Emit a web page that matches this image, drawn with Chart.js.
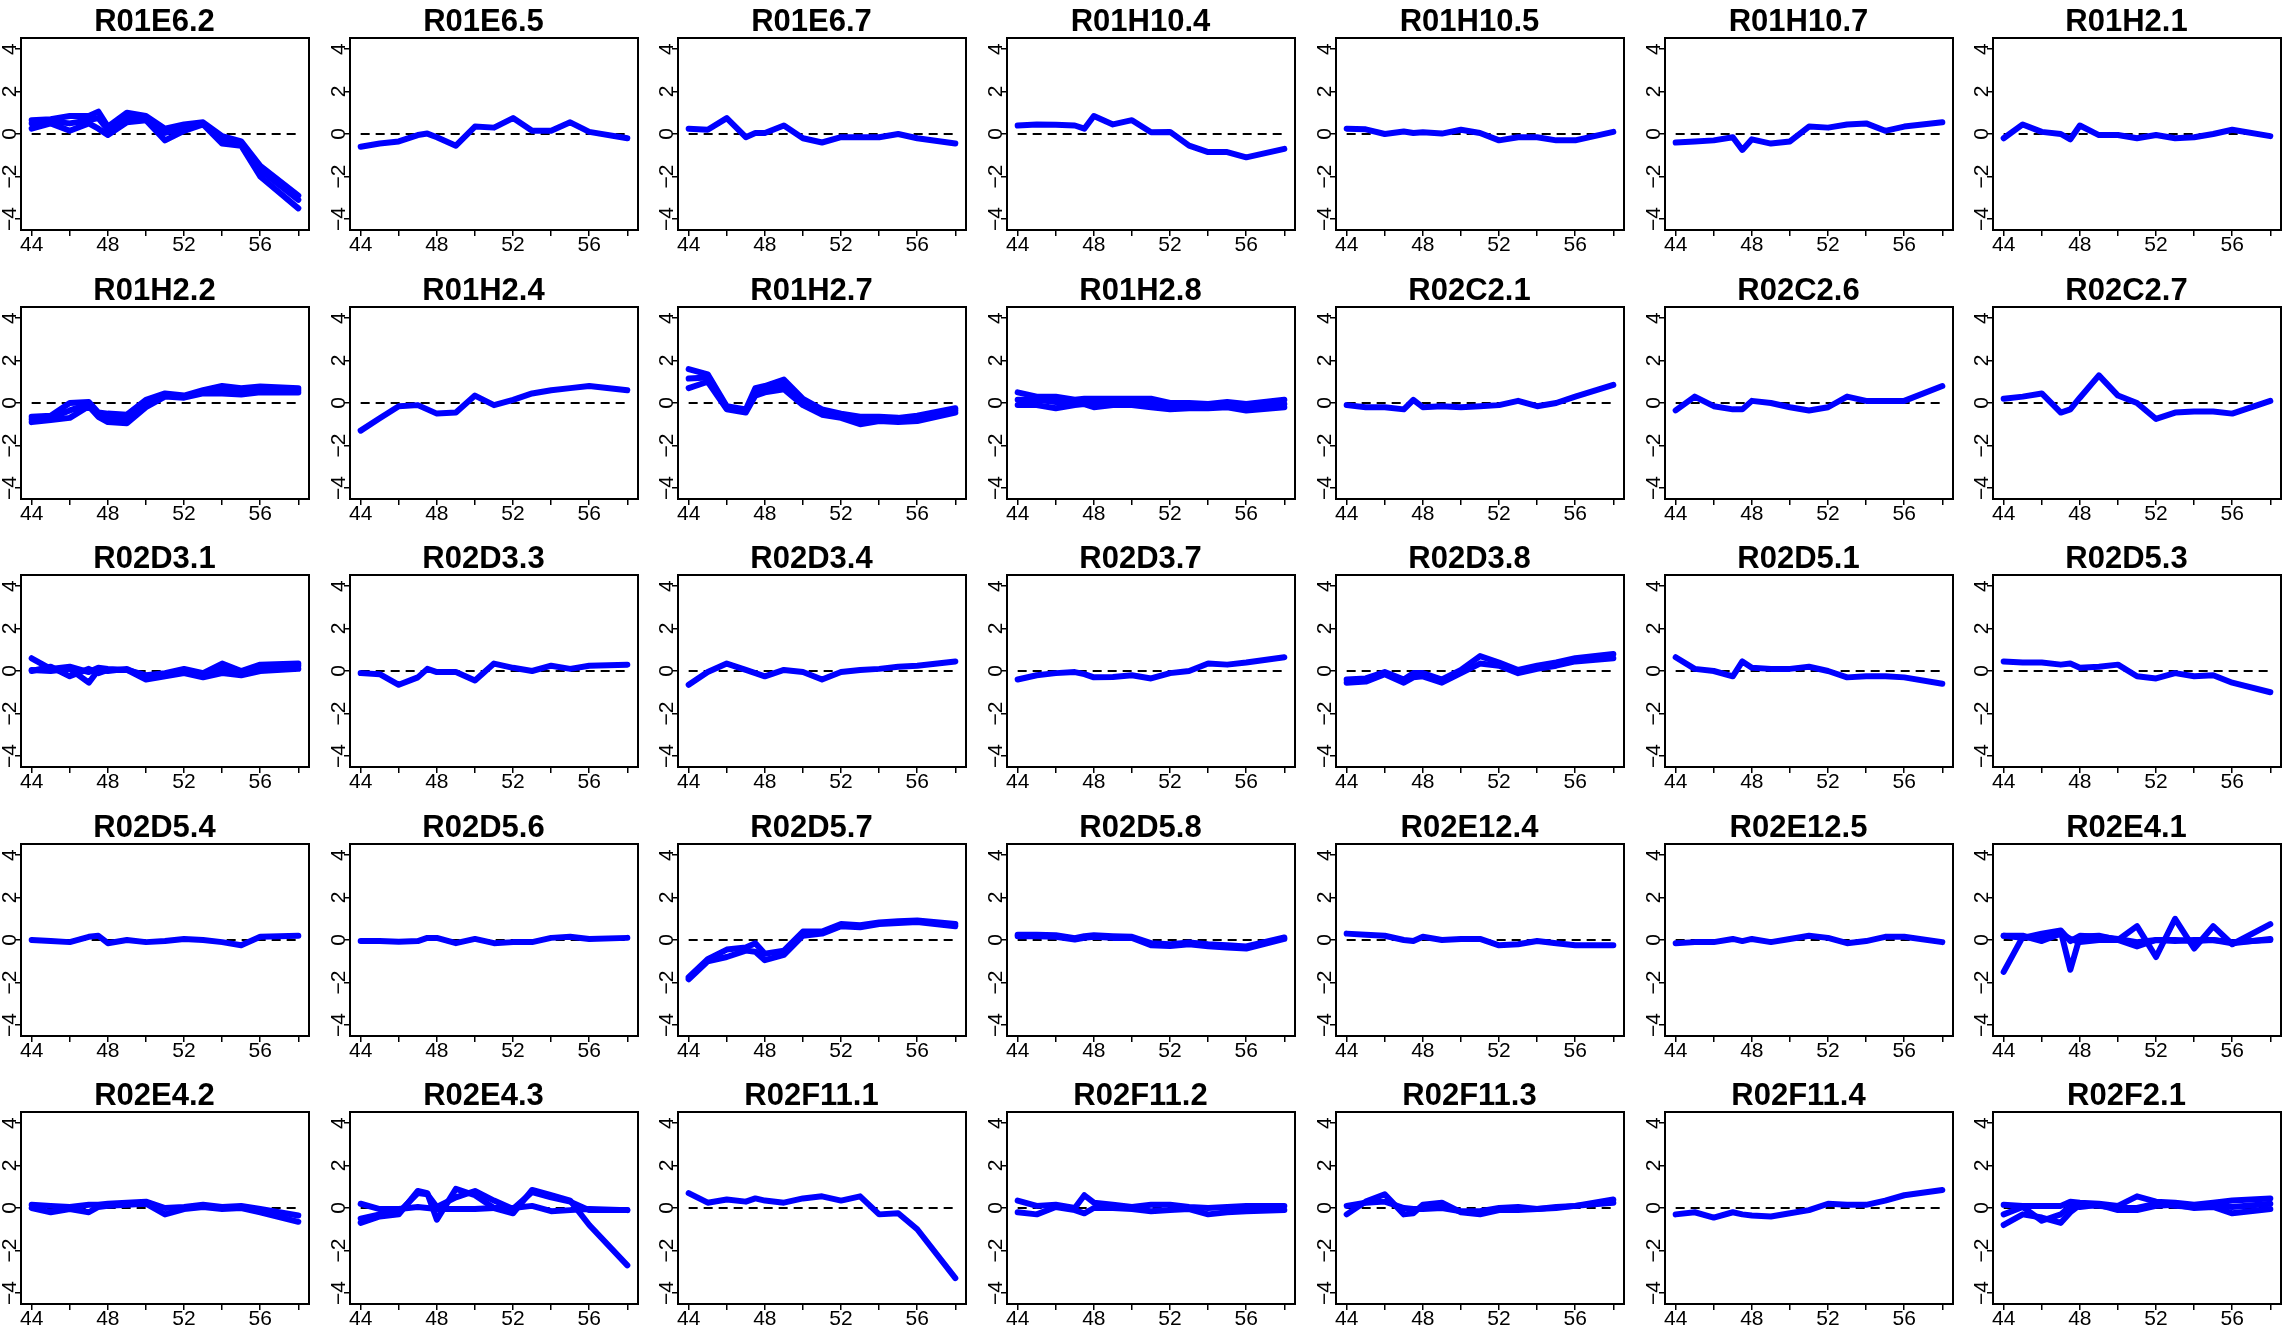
<!DOCTYPE html>
<html>
<head>
<meta charset="utf-8">
<script src="https://cdn.jsdelivr.net/npm/chart.js@4.4.1/dist/chart.umd.min.js"></script>
<style>
  html, body { margin: 0; padding: 0; background: #fff; overflow: hidden; }
  #wrap { position: relative; width: 2285px; height: 1333px; }
  canvas { position: absolute; }
</style>
</head>
<body>
<div id="wrap"></div>
<script>
// x positions of the measurements, shared by every panel
const xValues = [44, 45, 46, 47, 47.5, 48, 49, 50, 51, 52, 53, 54, 55, 56, 58];
const xTicks = [44, 46, 48, 50, 52, 54, 56, 58];
const xLabelValues = [44, 48, 52, 56];
const yTicks = [-4, -2, 0, 2, 4];
const yTickLabels = ['\u22124', '\u22122', '0', '2', '4'];

const titles = [
  'R01E6.2', 'R01E6.5', 'R01E6.7', 'R01H10.4', 'R01H10.5', 'R01H10.7', 'R01H2.1',
  'R01H2.2', 'R01H2.4', 'R01H2.7', 'R01H2.8', 'R02C2.1', 'R02C2.6', 'R02C2.7',
  'R02D3.1', 'R02D3.3', 'R02D3.4', 'R02D3.7', 'R02D3.8', 'R02D5.1', 'R02D5.3',
  'R02D5.4', 'R02D5.6', 'R02D5.7', 'R02D5.8', 'R02E12.4', 'R02E12.5', 'R02E4.1',
  'R02E4.2', 'R02E4.3', 'R02F11.1', 'R02F11.2', 'R02F11.3', 'R02F11.4', 'R02F2.1'
];

// one list of lines per panel (some genes have several probes)
const R01E6_2 = [
  [0.65, 0.7, 0.85, 0.85, 1.05, 0.35, 1.0, 0.85, 0.25, 0.45, 0.55, -0.1, -0.35, -1.5, -2.9],
  [0.5, 0.6, 0.5, 0.65, 0.75, 0.2, 0.75, 0.75, 0.05, 0.3, 0.5, -0.25, -0.45, -1.7, -3.1],
  [0.25, 0.5, 0.15, 0.5, 0.25, -0.05, 0.55, 0.65, -0.3, 0.15, 0.45, -0.45, -0.55, -2.0, -3.5]
];
const R01E6_5 = [[-0.6, -0.45, -0.35, -0.05, 0.02, -0.15, -0.55, 0.35, 0.3, 0.75, 0.15, 0.15, 0.55, 0.1, -0.2]];
const R01E6_7 = [[0.25, 0.2, 0.75, -0.15, 0.05, 0.05, 0.4, -0.2, -0.4, -0.15, -0.15, -0.15, 0.0, -0.2, -0.45]];
const R01H10_4 = [[0.4, 0.45, 0.43, 0.4, 0.25, 0.85, 0.45, 0.65, 0.08, 0.1, -0.55, -0.85, -0.85, -1.1, -0.7]];
const R01H10_5 = [[0.25, 0.22, 0.0, 0.12, 0.05, 0.08, 0.02, 0.2, 0.05, -0.3, -0.15, -0.15, -0.3, -0.3, 0.1]];
const R01H10_7 = [[-0.4, -0.35, -0.3, -0.15, -0.75, -0.25, -0.45, -0.35, 0.35, 0.3, 0.45, 0.5, 0.15, 0.35, 0.55]];
const R01H2_1 = [[-0.2, 0.45, 0.1, 0.0, -0.25, 0.4, -0.05, -0.05, -0.2, -0.05, -0.2, -0.15, 0.0, 0.2, -0.1]];

const R01H2_2 = [
  [-0.65, -0.6, 0.0, 0.05, -0.45, -0.5, -0.55, 0.15, 0.45, 0.35, 0.6, 0.8, 0.7, 0.78, 0.7],
  [-0.78, -0.7, -0.35, -0.05, -0.55, -0.7, -0.75, -0.05, 0.38, 0.3, 0.52, 0.62, 0.55, 0.62, 0.6],
  [-0.9, -0.8, -0.7, -0.15, -0.65, -0.9, -0.95, -0.2, 0.3, 0.25, 0.45, 0.45, 0.4, 0.5, 0.5]
];
const R01H2_4 = [[-1.3, -0.72, -0.15, -0.1, -0.3, -0.5, -0.45, 0.35, -0.1, 0.15, 0.45, 0.6, 0.7, 0.8, 0.6]];
const R01H2_7 = [
  [1.6, 1.35, -0.15, -0.3, 0.7, 0.8, 1.1, 0.2, -0.3, -0.5, -0.65, -0.65, -0.7, -0.6, -0.25],
  [1.15, 1.2, -0.25, -0.4, 0.5, 0.65, 0.85, 0.05, -0.45, -0.6, -0.8, -0.75, -0.8, -0.72, -0.35],
  [0.7, 1.0, -0.3, -0.45, 0.35, 0.5, 0.65, -0.1, -0.55, -0.7, -1.0, -0.85, -0.9, -0.85, -0.45]
];
const R01H2_8 = [
  [0.5, 0.3, 0.3, 0.15, 0.2, 0.2, 0.2, 0.2, 0.2, 0.0, 0.0, -0.05, 0.05, -0.05, 0.15],
  [0.15, 0.15, 0.05, 0.05, 0.1, 0.0, 0.05, 0.05, 0.0, -0.15, -0.1, -0.15, -0.05, -0.2, -0.05],
  [-0.1, -0.1, -0.25, -0.1, -0.05, -0.2, -0.1, -0.1, -0.2, -0.3, -0.25, -0.25, -0.2, -0.35, -0.2]
];
const R02C2_1 = [[-0.1, -0.2, -0.2, -0.3, 0.15, -0.2, -0.15, -0.2, -0.15, -0.1, 0.1, -0.15, 0.0, 0.3, 0.85]];
const R02C2_6 = [[-0.35, 0.3, -0.15, -0.3, -0.3, 0.1, 0.0, -0.2, -0.35, -0.2, 0.3, 0.1, 0.1, 0.1, 0.8]];
const R02C2_7 = [[0.2, 0.3, 0.45, -0.45, -0.3, 0.25, 1.3, 0.35, 0.0, -0.75, -0.45, -0.4, -0.4, -0.5, 0.1]];

const R02D3_1 = [
  [0.6, 0.1, 0.2, -0.05, 0.15, 0.1, 0.05, -0.2, -0.1, 0.1, -0.1, 0.35, 0.0, 0.3, 0.35],
  [0.0, 0.2, -0.25, 0.1, -0.1, 0.05, 0.05, -0.4, -0.25, -0.1, -0.3, -0.1, -0.2, 0.0, 0.1],
  [0.05, 0.0, 0.1, -0.55, 0.05, 0.0, 0.1, -0.3, -0.2, -0.05, -0.15, 0.1, -0.1, 0.2, 0.25]
];
const R02D3_3 = [[-0.1, -0.15, -0.65, -0.3, 0.1, -0.05, -0.05, -0.45, 0.35, 0.15, 0.0, 0.25, 0.1, 0.25, 0.3]];
const R02D3_4 = [[-0.65, -0.05, 0.35, 0.05, -0.1, -0.25, 0.05, -0.05, -0.4, -0.05, 0.05, 0.1, 0.2, 0.25, 0.45]];
const R02D3_7 = [[-0.4, -0.2, -0.1, -0.05, -0.15, -0.3, -0.28, -0.2, -0.35, -0.1, 0.0, 0.35, 0.3, 0.4, 0.65]];
const R02D3_8 = [
  [-0.4, -0.35, -0.05, -0.4, -0.1, -0.1, -0.4, 0.05, 0.7, 0.4, 0.05, 0.25, 0.4, 0.6, 0.8],
  [-0.55, -0.5, -0.15, -0.55, -0.3, -0.25, -0.55, -0.1, 0.35, 0.25, -0.1, 0.1, 0.25, 0.45, 0.6]
];
const R02D5_1 = [[0.65, 0.1, 0.0, -0.25, 0.45, 0.15, 0.1, 0.1, 0.2, 0.0, -0.3, -0.25, -0.25, -0.3, -0.6]];
const R02D5_3 = [[0.45, 0.4, 0.4, 0.3, 0.35, 0.15, 0.2, 0.3, -0.25, -0.35, -0.1, -0.25, -0.2, -0.55, -1.0]];

const R02D5_4 = [[0.0, -0.05, -0.1, 0.15, 0.2, -0.15, 0.0, -0.1, -0.05, 0.05, 0.0, -0.1, -0.25, 0.15, 0.2]];
const R02D5_6 = [[-0.05, -0.05, -0.08, -0.05, 0.1, 0.1, -0.15, 0.05, -0.15, -0.1, -0.1, 0.1, 0.15, 0.05, 0.1]];
const R02D5_7 = [
  [-1.75, -0.9, -0.45, -0.35, -0.15, -0.65, -0.5, 0.4, 0.4, 0.75, 0.7, 0.82, 0.88, 0.92, 0.75],
  [-1.85, -1.0, -0.8, -0.5, -0.55, -0.95, -0.7, 0.2, 0.3, 0.65, 0.6, 0.75, 0.8, 0.85, 0.65]
];
const R02D5_8 = [
  [0.25, 0.25, 0.22, 0.08, 0.18, 0.22, 0.18, 0.15, -0.15, -0.2, -0.12, -0.2, -0.25, -0.3, 0.12],
  [0.18, 0.18, 0.15, 0.02, 0.1, 0.15, 0.1, 0.1, -0.25, -0.28, -0.2, -0.3, -0.35, -0.4, 0.05]
];
const R02E12_4 = [[0.3, 0.25, 0.2, 0.0, -0.05, 0.15, 0.0, 0.05, 0.05, -0.25, -0.2, -0.05, -0.15, -0.25, -0.25]];
const R02E12_5 = [[-0.15, -0.1, -0.1, 0.05, -0.05, 0.05, -0.1, 0.05, 0.2, 0.1, -0.15, -0.05, 0.15, 0.15, -0.1]];
const R02E4_1 = [
  [-1.5, 0.15, 0.05, 0.4, -1.4, 0.15, 0.2, 0.0, 0.65, -0.8, 1.0, -0.4, 0.65, -0.2, 0.75],
  [0.2, 0.2, -0.05, 0.3, 0.05, -0.1, 0.0, 0.0, -0.3, 0.0, -0.05, 0.0, 0.0, -0.15, 0.05],
  [0.2, 0.1, 0.3, 0.45, -0.05, 0.2, 0.15, 0.05, -0.1, 0.0, 0.0, -0.05, 0.0, -0.1, 0.0]
];

const R02E4_2 = [
  [0.15, 0.1, 0.05, 0.15, 0.15, 0.2, 0.25, 0.3, 0.0, 0.05, 0.15, 0.05, 0.1, -0.05, -0.35],
  [0.0, -0.2, -0.05, -0.2, 0.05, 0.1, 0.15, 0.2, -0.3, -0.05, 0.05, -0.05, 0.0, -0.2, -0.65]
];
const R02E4_3 = [
  [0.2, -0.05, -0.05, 0.05, 0.0, -0.05, -0.05, -0.05, 0.0, 0.0, 0.1, -0.15, -0.1, -0.05, -0.1],
  [-0.7, -0.4, -0.3, 0.8, 0.7, -0.55, 0.9, 0.6, 0.0, -0.25, 0.85, 0.6, 0.35, -0.8, -2.7],
  [-0.5, -0.3, -0.2, 0.7, 0.65, 0.05, 0.5, 0.8, 0.35, -0.05, 0.75, 0.5, 0.3, -0.1, -0.1]
];
const R02F11_1 = [[0.7, 0.25, 0.4, 0.3, 0.45, 0.35, 0.25, 0.45, 0.55, 0.35, 0.55, -0.3, -0.25, -1.0, -3.3]];
const R02F11_2 = [
  [0.35, 0.1, 0.15, 0.0, 0.6, 0.25, 0.15, 0.05, 0.15, 0.15, 0.05, 0.0, 0.05, 0.1, 0.1],
  [-0.2, -0.3, 0.05, -0.1, -0.25, 0.0, 0.0, -0.05, -0.15, -0.1, -0.05, -0.3, -0.2, -0.15, -0.1]
];
const R02F11_3 = [
  [-0.3, 0.3, 0.65, -0.3, -0.25, 0.15, 0.25, -0.2, -0.3, -0.1, -0.1, -0.05, 0.0, 0.1, 0.4],
  [0.1, 0.25, 0.3, 0.0, -0.05, -0.05, 0.0, -0.15, -0.15, 0.0, 0.05, -0.05, 0.05, 0.1, 0.25]
];
const R02F11_4 = [[-0.3, -0.2, -0.45, -0.2, -0.3, -0.35, -0.4, -0.25, -0.1, 0.2, 0.15, 0.15, 0.35, 0.6, 0.85]];
const R02F2_1 = [
  [0.15, 0.1, 0.1, 0.1, 0.3, 0.25, 0.2, 0.1, 0.55, 0.3, 0.25, 0.15, 0.25, 0.35, 0.45],
  [-0.8, -0.3, -0.45, -0.7, -0.2, 0.15, 0.1, 0.0, 0.0, 0.2, 0.1, 0.05, 0.1, 0.05, 0.2],
  [-0.3, 0.05, -0.6, -0.3, 0.1, 0.05, 0.15, -0.1, -0.1, 0.1, 0.15, 0.0, 0.05, -0.25, -0.05]
];

const panelSeries = [
  R01E6_2, R01E6_5, R01E6_7, R01H10_4, R01H10_5, R01H10_7, R01H2_1,
  R01H2_2, R01H2_4, R01H2_7, R01H2_8, R02C2_1, R02C2_6, R02C2_7,
  R02D3_1, R02D3_3, R02D3_4, R02D3_7, R02D3_8, R02D5_1, R02D5_3,
  R02D5_4, R02D5_6, R02D5_7, R02D5_8, R02E12_4, R02E12_5, R02E4_1,
  R02E4_2, R02E4_3, R02F11_1, R02F11_2, R02F11_3, R02F11_4, R02F2_1
];

const FONT = "'Liberation Sans', Arial, Helvetica, sans-serif";
Chart.defaults.font.family = FONT;
Chart.defaults.color = '#000';

// box around the plot region + rotated y labels (R style)
const framePlugin = {
  id: 'frame',
  afterDraw(chart) {
    const { ctx, chartArea: a } = chart;
    ctx.save();
    ctx.strokeStyle = '#000';
    ctx.lineWidth = 2;
    ctx.strokeRect(a.left, a.top, a.right - a.left, a.bottom - a.top);
    ctx.fillStyle = '#000';
    ctx.font = '21px ' + FONT;
    ctx.textAlign = 'center';
    ctx.textBaseline = 'middle';
    const ys = chart.scales.y;
    yTicks.forEach((v, i) => {
      ctx.save();
      ctx.translate(a.left - 11, ys.getPixelForValue(v));
      ctx.rotate(-Math.PI / 2);
      ctx.fillText(yTickLabels[i], 0, 0);
      ctx.restore();
    });
    ctx.restore();
  }
};

const wrap = document.getElementById('wrap');
const colPitch = 328.7, rowPitch = 268.6;

titles.forEach((title, k) => {
  const col = k % 7, row = Math.floor(k / 7);
  const cv = document.createElement('canvas');
  cv.width = 329; cv.height = 269;
  cv.style.left = Math.round(col * colPitch) + 'px';
  cv.style.top = Math.round(row * rowPitch) + 'px';
  wrap.appendChild(cv);

  const datasets = panelSeries[k].map(s => ({
    data: xValues.map((x, i) => ({ x: x, y: s[i] })),
    borderColor: '#0000ff',
    borderWidth: 6,
    borderJoinStyle: 'round',
    borderCapStyle: 'round',
    pointRadius: 0,
    tension: 0,
    fill: false
  }));
  // reference line at zero, drawn underneath
  datasets.push({
    data: [{ x: 44, y: 0 }, { x: 58, y: 0 }],
    borderColor: '#000',
    borderWidth: 2.2,
    borderDash: [9, 6],
    pointRadius: 0,
    fill: false
  });

  const gridOpts = { drawOnChartArea: false, drawTicks: true, tickLength: 6, color: '#000', lineWidth: 1.5 };

  new Chart(cv.getContext('2d'), {
    type: 'line',
    data: { datasets: datasets },
    options: {
      responsive: false,
      animation: false,
      devicePixelRatio: 1,
      layout: { padding: { left: 0, right: 20, top: 0, bottom: 0 } },
      plugins: {
        legend: { display: false },
        tooltip: { enabled: false },
        title: {
          display: true, text: title, color: '#000',
          font: { size: 31, weight: 'bold', family: FONT, lineHeight: 32 / 31 },
          padding: { top: 6, bottom: 0 }
        }
      },
      scales: {
        x: {
          type: 'linear', min: 43.44, max: 58.56,
          afterBuildTicks: s => { s.ticks = xTicks.map(v => ({ value: v })); },
          afterFit: s => { s.height = 39; },
          grid: gridOpts,
          border: { display: false },
          ticks: {
            autoSkip: false, maxRotation: 0, minRotation: 0, padding: -1,
            font: { size: 21, family: FONT, lineHeight: 1 }, color: '#000',
            callback: v => xLabelValues.includes(v) ? String(v) : ''
          }
        },
        y: {
          type: 'linear', min: -4.52, max: 4.52,
          afterBuildTicks: s => { s.ticks = yTicks.map(v => ({ value: v })); },
          afterFit: s => { s.width = 21; },
          grid: gridOpts,
          border: { display: false },
          ticks: { display: false }
        }
      }
    },
    plugins: [framePlugin]
  });
});
</script>
</body>
</html>
